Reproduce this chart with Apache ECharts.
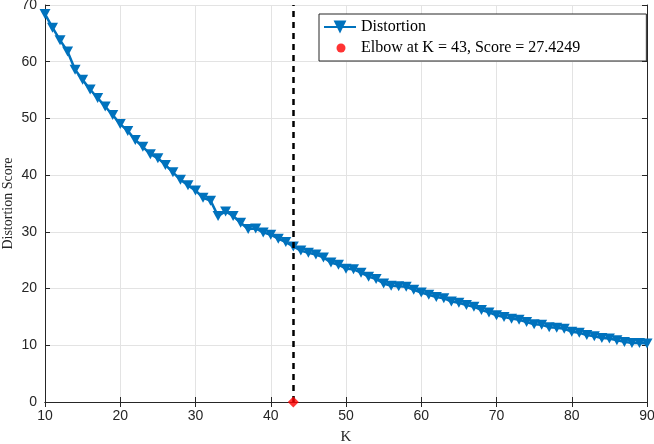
<!DOCTYPE html>
<html>
<head>
<meta charset="utf-8">
<script src="https://cdn.jsdelivr.net/npm/echarts@6/dist/echarts.min.js"></script>
<style>html,body{margin:0;padding:0;background:#fff;}#c{width:654px;height:444px;}</style>
</head>
<body>
<div id="c"></div>
<script>
const kValues = [10,11,12,13,14,15,16,17,18,19,20,21,22,23,24,25,26,27,28,29,30,31,32,33,34,35,36,37,38,39,40,41,42,43,44,45,46,47,48,49,50,51,52,53,54,55,56,57,58,59,60,61,62,63,64,65,66,67,68,69,70,71,72,73,74,75,76,77,78,79,80,81,82,83,84,85,86,87,88,89,90];
const distortion = [68.4,66.0,63.8,61.8,58.6,56.8,55.1,53.6,52.1,50.6,49.0,47.8,46.2,45.0,43.7,43.0,41.8,40.5,39.2,38.2,37.3,36.0,35.5,32.8,33.6,32.8,31.6,30.5,30.6,29.9,29.5,28.8,28.2,27.4249,26.7,26.3,26.0,25.5,24.6,24.2,23.5,23.4,22.8,22.1,21.7,20.9,20.5,20.4,20.3,19.8,19.3,18.9,18.5,18.3,17.7,17.5,17.1,16.8,16.2,15.8,15.3,15.0,14.7,14.5,14.1,13.7,13.6,13.2,13.1,12.9,12.4,12.2,11.8,11.6,11.3,11.2,10.9,10.6,10.4,10.4,10.3];
const elbowK = 43;
const elbowScore = 27.4249;
const xTicks = [10,20,30,40,50,60,70,80,90];
const yTicks = [0,10,20,30,40,50,60,70];
const seriesNames = ['Distortion', 'Elbow at K = ' + elbowK + ', Score = ' + elbowScore];

const chart = echarts.init(document.getElementById('c'));
const axisColor = '#262626';
const gridLine = {show: true, lineStyle: {color: '#e3e3e3', width: 1}};
const baseX = {type: 'value', min: xTicks[0], max: xTicks[xTicks.length-1], interval: 10};
const baseY = {type: 'value', min: yTicks[0], max: yTicks[yTicks.length-1], interval: 10};
chart.setOption({
  animation: false,
  grid: {left: 45, right: 7, top: 5, bottom: 42, containLabel: false, outerBoundsMode: 'none'},
  legend: {
    orient: 'vertical', left: 319, top: 14,
    padding: [5, 66, 5, 4], itemGap: 5, itemWidth: 32, itemHeight: 16,
    backgroundColor: '#fff', borderColor: axisColor, borderWidth: 1, borderRadius: 0,
    textStyle: {fontFamily: 'Liberation Serif', fontSize: 16, color: '#000'},
    data: [
      {name: seriesNames[0]},
      {name: seriesNames[1], icon: 'path://M0,0L0,0M32,16L32,16M17,3.5A4.5,4.5 0 1 1 17,12.5A4.5,4.5 0 1 1 17,3.5Z'}
    ]
  },
  xAxis: [
    Object.assign({}, baseX, {
      position: 'bottom',
      name: 'K', nameLocation: 'middle', nameGap: 28, nameMoveOverlap: false,
      nameTextStyle: {fontFamily: 'Liberation Serif', fontSize: 15, color: axisColor},
      axisLine: {lineStyle: {color: axisColor, width: 1}},
      axisTick: {inside: true, length: 5, lineStyle: {color: axisColor}},
      axisLabel: {fontFamily: 'Liberation Sans', fontSize: 14, color: axisColor, margin: 7},
      splitLine: gridLine
    }),
    Object.assign({}, baseX, {
      position: 'top',
      axisLine: {lineStyle: {color: axisColor, width: 1}},
      axisTick: {inside: true, length: 5, lineStyle: {color: axisColor}},
      axisLabel: {show: false}, splitLine: {show: false}
    })
  ],
  yAxis: [
    Object.assign({}, baseY, {
      position: 'left',
      name: 'Distortion Score', nameLocation: 'middle', nameGap: 30, nameMoveOverlap: false,
      nameTextStyle: {fontFamily: 'Liberation Serif', fontSize: 14, color: axisColor},
      axisLine: {show: true, lineStyle: {color: axisColor, width: 1}},
      axisTick: {show: true, inside: true, length: 5, lineStyle: {color: axisColor}},
      axisLabel: {fontFamily: 'Liberation Sans', fontSize: 14, color: axisColor, margin: 8},
      splitLine: gridLine
    }),
    Object.assign({}, baseY, {
      position: 'right',
      axisLine: {show: true, lineStyle: {color: axisColor, width: 1}},
      axisTick: {show: true, inside: true, length: 5, lineStyle: {color: axisColor}},
      axisLabel: {show: false}, splitLine: {show: false}
    })
  ],
  series: [
    {
      name: seriesNames[0], type: 'line',
      data: kValues.map((k, i) => [k, distortion[i]]),
      lineStyle: {color: '#0072BD', width: 2.5},
      itemStyle: {color: '#0072BD'},
      symbol: 'triangle', symbolRotate: 180, symbolSize: [11, 10], showSymbol: true,
      z: 3
    },
    {
      name: seriesNames[1], type: 'scatter',
      data: [[elbowK, 0]],
      symbol: 'diamond', symbolSize: 11,
      itemStyle: {color: '#ff0000'},
      z: 5,
      markLine: {
        silent: true, symbol: 'none',
        label: {show: false},
        lineStyle: {color: '#000', type: [6, 5], width: 2.5},
        data: [{xAxis: elbowK}]
      }
    }
  ]
});
</script>
</body>
</html>
